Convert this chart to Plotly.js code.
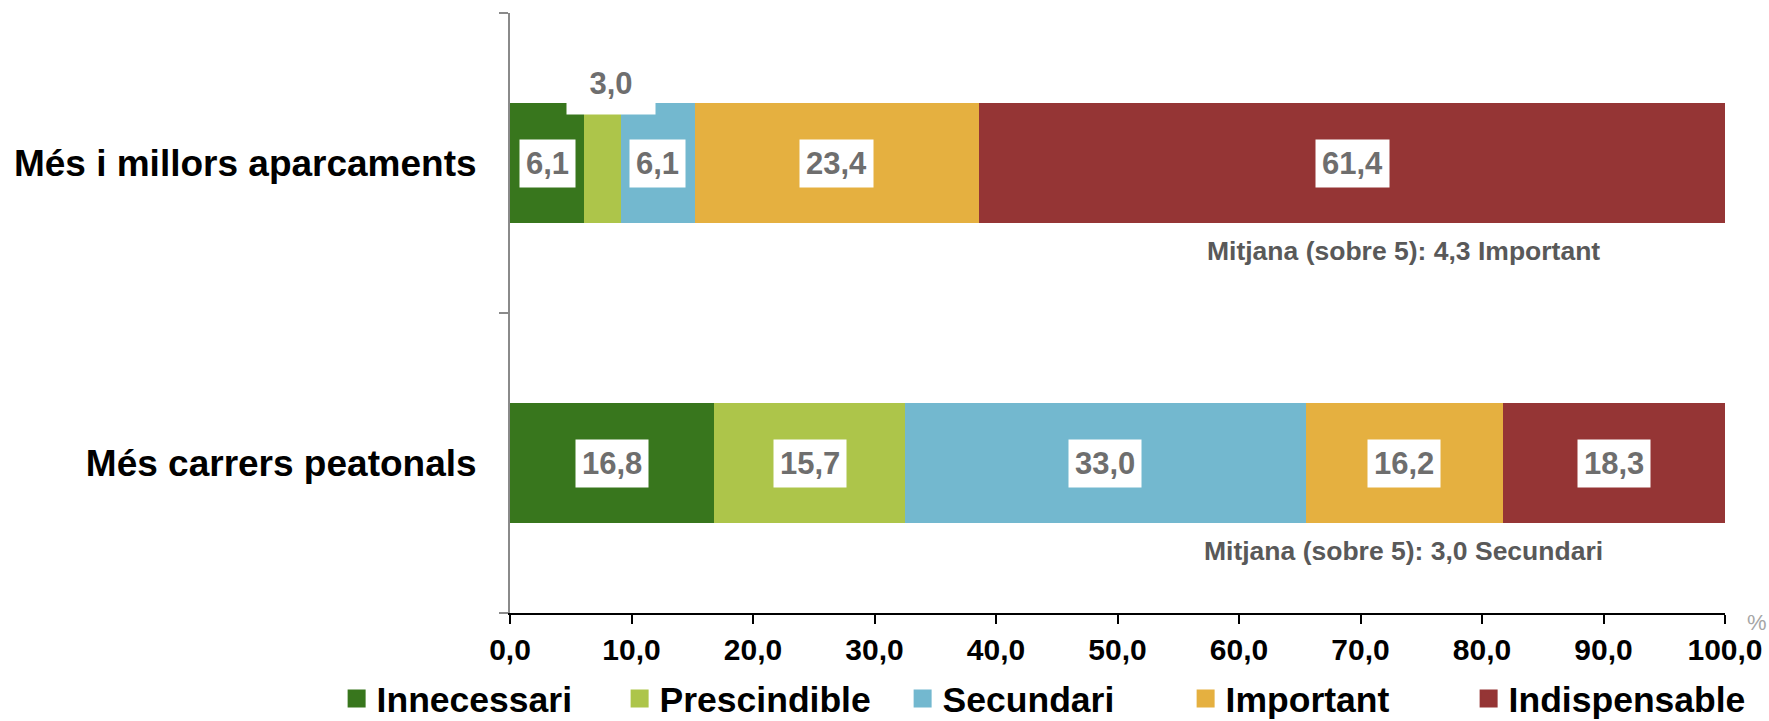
<!DOCTYPE html>
<html>
<head>
<meta charset="utf-8">
<script src="https://cdn.plot.ly/plotly-3.0.1.min.js"></script>
<style>
  html, body { margin: 0; padding: 0; background: #ffffff; }
  #chart { width: 1769px; height: 721px; }
</style>
</head>
<body>
<div id="chart"></div>
<script>
// Categories, bottom to top on the y axis
const categories = ['Més carrers peatonals', 'Més i millors aparcaments'];

// Response levels (legend order)
const levels = ['Innecessari', 'Prescindible', 'Secundari', 'Important', 'Indispensable'];

// Percentages per level, one value per category (same order as categories)
const innecessari   = [16.8, 6.1];
const prescindible  = [15.7, 3.0];
const secundari     = [33.0, 6.1];
const important     = [16.2, 23.4];
const indispensable = [18.3, 61.4];

// Mean score notes shown under each bar
const meanLabels = ['Mitjana (sobre 5): 3,0 Secundari', 'Mitjana (sobre 5): 4,3 Important'];

const seriesValues = [innecessari, prescindible, secundari, important, indispensable];
const colors = ['#38761d', '#adc54a', '#73b8cf', '#e5b040', '#953535'];

const narrow = '"Liberation Sans Narrow", "Arial Narrow", "Liberation Sans", Arial, sans-serif';
const wide = '"Liberation Sans", Arial, sans-serif';

const fmt = v => v.toFixed(1).replace('.', ',');

// Stacked bars (legend handled by the marker-only entries below)
const traces = levels.map((name, i) => ({
  type: 'bar',
  orientation: 'h',
  name: name,
  y: categories,
  x: seriesValues[i],
  width: 0.4,
  marker: { color: colors[i], line: { width: 0 } },
  showlegend: false,
  hoverinfo: 'x+name'
}));

// Legend entries with larger square swatches
levels.forEach((name, i) => {
  traces.push({
    type: 'scatter',
    mode: 'markers',
    name: name,
    x: [null],
    y: [null],
    marker: { symbol: 'square', size: 16, color: colors[i], line: { color: colors[i], width: 2 } },
    showlegend: true,
    hoverinfo: 'skip'
  });
});

// Value labels in white boxes, centred on each stacked segment
const annotations = [];
categories.forEach((cat, c) => {
  let start = 0;
  seriesValues.forEach((vals, i) => {
    const v = vals[c];
    const mid = start + v / 2;
    start += v;
    const label = {
      x: mid, y: cat, xref: 'x', yref: 'y',
      text: fmt(v),
      showarrow: false,
      bgcolor: '#ffffff',
      borderpad: 6,
      font: { family: narrow, size: 31, color: '#6e6e6e', weight: 'bold' }
    };
    // very thin segment: its label sits above the bar
    if (v < 4) {
      label.yshift = 80;
      label.xshift = 9;
      label.width = 62;
      label.height = 36;
      label.borderpad = 13;
    }
    annotations.push(label);
  });
  annotations.push({
    x: 73.5, y: cat, xref: 'x', yref: 'y',
    text: meanLabels[c],
    showarrow: false,
    yshift: -88,
    font: { family: narrow, size: 26.5, color: '#595959', weight: 'bold' }
  });
});

// Unit marker at the end of the value axis
annotations.push({
  x: 1, y: 0, xref: 'paper', yref: 'paper',
  xanchor: 'left', yanchor: 'middle',
  xshift: 20, yshift: -9,
  text: '%', showarrow: false,
  font: { family: wide, size: 22, color: '#a6a6a6' }
});

const layout = {
  width: 1769,
  height: 721,
  margin: { l: 510, r: 44, t: 13, b: 108, pad: 0, autoexpand: false },
  paper_bgcolor: '#ffffff',
  plot_bgcolor: '#ffffff',
  barmode: 'stack',
  separators: ',.',
  showlegend: true,
  legend: {
    orientation: 'h',
    xref: 'paper', yref: 'paper',
    x: -0.1427, xanchor: 'left',
    y: -0.143, yanchor: 'middle',
    bgcolor: 'rgba(0,0,0,0)',
    font: { family: wide, size: 35.5, color: '#000000', weight: 'bold' },
    itemwidth: 30,
    entrywidth: 238,
    entrywidthmode: 'pixels',
    traceorder: 'normal'
  },
  xaxis: {
    range: [0, 100],
    tick0: 0, dtick: 10,
    tickformat: '.1f',
    ticks: 'outside', ticklen: 9, tickwidth: 2, tickcolor: '#000000',
    showline: true, linecolor: '#000000', linewidth: 2,
    showgrid: false, zeroline: false,
    tickfont: { family: wide, size: 30, color: '#000000', weight: 'bold' },
    fixedrange: true
  },
  yaxis: {
    type: 'category',
    categoryorder: 'array',
    categoryarray: categories,
    range: [-0.5, 1.5],
    tickson: 'boundaries',
    ticks: 'outside', ticklen: 9, tickwidth: 2, tickcolor: '#8a8a8a',
    showline: true, linecolor: '#8a8a8a', linewidth: 2,
    showgrid: false, zeroline: false,
    ticklabelstandoff: 24,
    tickfont: { family: wide, size: 37, color: '#000000', weight: 'bold' },
    fixedrange: true
  },
  annotations: annotations
};

Plotly.newPlot('chart', traces, layout, { displayModeBar: false, staticPlot: true });
</script>
</body>
</html>
